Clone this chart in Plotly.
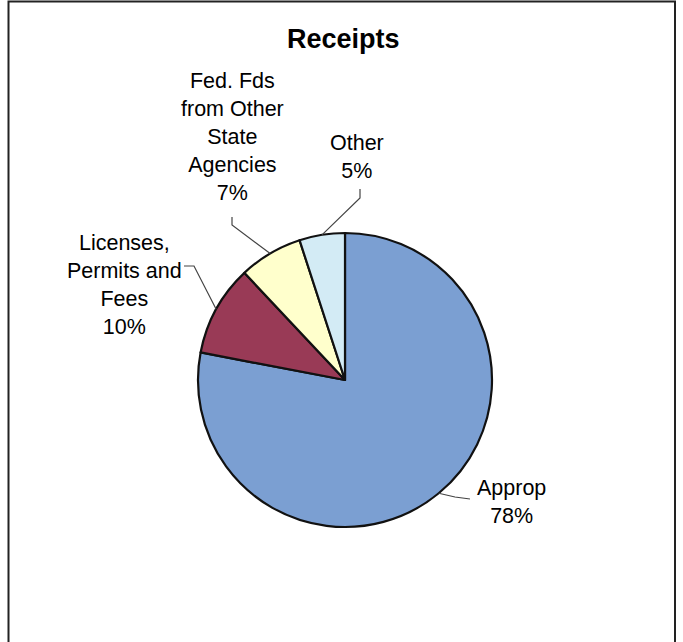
import math
import plotly.graph_objects as go

# ---- data ----
categories = ["Approp", "Licenses, Permits and Fees", "Fed. Fds from Other State Agencies", "Other"]
values = [78, 10, 7, 5]
label_texts = ["Approp<br>78%", "Licenses,<br>Permits and<br>Fees<br>10%",
               "Fed. Fds<br>from Other<br>State<br>Agencies<br>7%", "Other<br>5%"]
colors = ["#7b9fd2", "#993a56", "#ffffcc", "#d3ebf5"]

W, H = 683, 642
cx, cy, R = 345, 380, 147  # pie geometry in px

def px(x):
    return x / W

def py(y):
    return 1 - y / H

fig = go.Figure(go.Pie(
    labels=categories, values=values, sort=False, direction="clockwise", rotation=0,
    marker=dict(colors=colors, line=dict(color="#111111", width=2.2)),
    textinfo="none", hoverinfo="label+percent", showlegend=False,
    domain=dict(x=[px(cx - R), px(cx + R)], y=[py(cy + R), py(cy - R)]),
))

# label positions (px) and leader line bend / end points (px)
label_pos = [(511, 502), (124, 285), (232, 137), (357, 157)]
leader_pts = [[(455, 497), (470, 499)],
              [(194, 266), (184, 266)],
              [(232, 225), (232, 217)],
              [(360, 198), (360, 189)]]

total = sum(values)
cum = 0
shapes = []
annotations = []
for v, txt, (lx, ly), pts in zip(values, label_texts, label_pos, leader_pts):
    mid = (cum + v / 2) / total * 2 * math.pi
    cum += v
    ax, ay = cx + R * math.sin(mid), cy - R * math.cos(mid)
    path = "M {} {}".format(px(ax), py(ay))
    for (x, y) in pts:
        path += " L {} {}".format(px(x), py(y))
    shapes.append(dict(type="path", path=path, xref="paper", yref="paper",
                       line=dict(color="#444444", width=1.2)))
    annotations.append(dict(text=txt, x=px(lx), y=py(ly), xref="paper", yref="paper",
                            showarrow=False, xanchor="center", yanchor="middle",
                            font=dict(family="Liberation Sans, Arial", size=21.5, color="#000000")))

annotations.append(dict(text="<b>Receipts</b>", x=px(343), y=py(39), xref="paper", yref="paper",
                        showarrow=False, xanchor="center", yanchor="middle",
                        font=dict(family="Liberation Sans, Arial", size=27, color="#000000")))

# outer frame
shapes.append(dict(type="rect", xref="paper", yref="paper",
                   x0=px(8.5), x1=px(675), y0=-0.05, y1=py(1.5),
                   line=dict(color="#222222", width=2)))

fig.update_layout(width=W, height=H, margin=dict(l=0, r=0, t=0, b=0),
                  paper_bgcolor="white", plot_bgcolor="white",
                  shapes=shapes, annotations=annotations)

fig.write_html("out.html", config={"displayModeBar": False},
               post_script="document.body.style.margin='0';")
